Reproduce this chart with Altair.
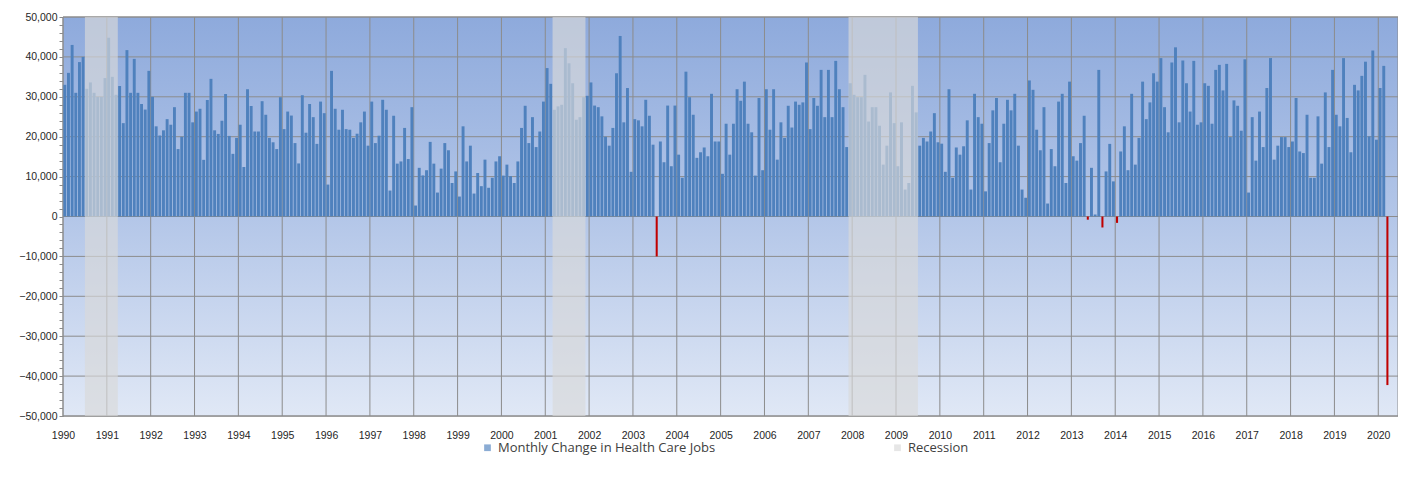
import altair as alt
import pandas as pd

# ---------------- data (monthly change in health care jobs) ----------------
years = list(range(1990, 2021))

jobs_1990 = [33000, 36000, 43000, 31000, 38700, 40000, 32000, 33600, 31000, 30000, 30000, 34700]
jobs_1991 = [44800, 35000, 30500, 32700, 23400, 41700, 31000, 39500, 31000, 28200, 26800, 36500]
jobs_1992 = [30000, 22600, 20300, 21600, 24400, 23000, 27400, 16900, 20000, 31000, 31000, 23600]
jobs_1993 = [26300, 27000, 14200, 29200, 34500, 21600, 20700, 24000, 30700, 20200, 15700, 19700]
jobs_1994 = [23000, 12400, 31900, 27700, 21300, 21300, 28900, 25500, 19700, 18600, 16900, 29900]
jobs_1995 = [21900, 26300, 25300, 18400, 13300, 30400, 21000, 28200, 24900, 18200, 28800, 25900]
jobs_1996 = [8000, 36500, 27000, 21750, 26750, 21900, 21750, 19700, 20750, 23600, 26300, 17750]
jobs_1997 = [28800, 18400, 20250, 29250, 26750, 6500, 25250, 13250, 13800, 22200, 14400, 27400]
jobs_1998 = [2750, 12200, 10300, 11600, 18700, 13250, 6000, 12000, 18400, 16600, 8400, 11300]
jobs_1999 = [5000, 22600, 13800, 17750, 5750, 10900, 7600, 14250, 7200, 9700, 13800, 15100]
jobs_2000 = [10250, 13000, 10100, 8400, 13800, 22200, 27750, 18400, 24900, 17400, 21300, 28800]
jobs_2001 = [37200, 33250, 26750, 27600, 28000, 42200, 38400, 33400, 24250, 24900, 29900, 30250]
jobs_2002 = [33600, 27800, 27400, 25100, 20000, 17750, 22200, 35900, 45250, 23600, 32200, 11200]
jobs_2003 = [24400, 24100, 22600, 29250, 25250, 18000, -10000, 18800, 13600, 27800, 12600, 27800]
jobs_2004 = [15500, 9700, 36300, 29900, 25500, 14700, 16100, 17300, 15100, 30750, 18800, 18800]
jobs_2005 = [10700, 23250, 15500, 23250, 31900, 29000, 33800, 23250, 21100, 10250, 29700, 11600]
jobs_2006 = [31900, 21750, 31900, 14250, 23600, 19700, 27750, 22300, 28800, 28000, 28600, 38600]
jobs_2007 = [21900, 29700, 27750, 36750, 24900, 36750, 24900, 39000, 31900, 27400, 17400, 33400]
jobs_2008 = [30500, 29900, 29900, 35500, 23800, 27400, 27400, 22750, 13000, 17750, 31100, 23400]
jobs_2009 = [12600, 23600, 6750, 8400, 32750, 26100, 17750, 19700, 18800, 21300, 25900, 18600]
jobs_2010 = [18250, 11200, 31900, 9700, 17300, 15500, 17600, 24100, 6750, 30750, 24900, 23250]
jobs_2011 = [6300, 18400, 26600, 29700, 13600, 23250, 29250, 26600, 30750, 17750, 6750, 4700]
jobs_2012 = [34100, 31750, 21750, 16600, 27400, 3250, 16900, 12600, 28800, 30750, 8400, 33800]
jobs_2013 = [15100, 14000, 18400, 25250, -800, 12200, 500, 36750, -2750, 11300, 18200, 8800]
jobs_2014 = [-1600, 16300, 22600, 11600, 30750, 13000, 19700, 33800, 24400, 28600, 35900, 33800]
jobs_2015 = [39700, 27400, 21100, 38600, 42400, 23600, 39100, 33400, 26300, 39000, 23000, 23600]
jobs_2016 = [33400, 32750, 23250, 36750, 38000, 31600, 38250, 19900, 29100, 27750, 21500, 39400]
jobs_2017 = [6000, 24900, 14000, 26300, 17400, 32200, 39700, 14250, 17750, 19900, 19900, 17400]
jobs_2018 = [18800, 29700, 16300, 15900, 25500, 9700, 9700, 25100, 13250, 31100, 17400, 36750]
jobs_2019 = [25500, 22600, 39700, 24700, 16100, 33000, 31600, 35250, 38800, 20100, 41600, 19250]
jobs_2020 = [32200, 37750, -42250]

yearly = [jobs_1990, jobs_1991, jobs_1992, jobs_1993, jobs_1994, jobs_1995, jobs_1996,
          jobs_1997, jobs_1998, jobs_1999, jobs_2000, jobs_2001, jobs_2002, jobs_2003,
          jobs_2004, jobs_2005, jobs_2006, jobs_2007, jobs_2008, jobs_2009, jobs_2010,
          jobs_2011, jobs_2012, jobs_2013, jobs_2014, jobs_2015, jobs_2016, jobs_2017,
          jobs_2018, jobs_2019, jobs_2020]

# recessions (start month, end month inclusive), as year / month
recession_start_year = [1990, 2001, 2007]
recession_start_month = [7, 3, 12]
recession_end_year = [1991, 2001, 2009]
recession_end_month = [3, 11, 6]

series_names = ["Monthly Change in Health Care Jobs", "Recession"]
y_grid_values = list(range(-50000, 50001, 10000))
y_tick_values = list(range(-50000, 50001, 2000))
x_tick_years = years

# ---------------- build tables ----------------
rows = []
for yr, vals in zip(years, yearly):
    for i, v in enumerate(vals):
        t = yr + i / 12.0
        rows.append({
            "t0": t + 0.10 / 12, "t1": t + 0.90 / 12,
            "t0n": t + 0.22 / 12, "t1n": t + 0.78 / 12,
            "value": v, "series": series_names[0],
        })
df = pd.DataFrame(rows)

rec = pd.DataFrame({
    "s": [y + (m - 1) / 12.0 for y, m in zip(recession_start_year, recession_start_month)],
    "e": [y + m / 12.0 for y, m in zip(recession_end_year, recession_end_month)],
    "series": series_names[1],
})

W, H = 1335, 399
FONT_AX = "Liberation Sans"
FONT_LG = "Open Sans"
GRID = "#8c8c8c"

xscale = alt.Scale(domain=[1990, 2020.45], nice=False, zero=False)
yscale = alt.Scale(domain=[-50000, 50000], nice=False, zero=False)

x_axis = alt.Axis(values=x_tick_years, format="d", grid=False, ticks=False, domain=False,
                  labelPadding=14, labelFontSize=10.5, labelFont=FONT_AX, labelColor="#262626",
                  labelOverlap=False, labelFlush=False, title=None)
y_axis = alt.Axis(values=y_tick_values,
                  labelExpr="datum.value % 10000 == 0 ? format(datum.value, ',') : ''",
                  grid=False, domain=True, domainColor=GRID, ticks=True, tickSize=4,
                  tickColor=GRID, labelPadding=2, labelFontSize=10.5, labelFont=FONT_AX,
                  labelColor="#262626", labelOverlap=False, labelFlush=False, title=None)

color_scale = alt.Scale(domain=series_names, range=["#4f81bd", "#d9d9d9"])
legend = alt.Legend(orient="none", legendX=418, legendY=424, direction="horizontal",
                    title=None, symbolType="square", symbolSize=45, symbolStrokeWidth=0,
                    labelFont=FONT_LG, labelFontSize=13, labelColor="#404040",
                    labelLimit=0, columnPadding=175, labelOffset=4, padding=0)

gradient = alt.LinearGradient(
    gradient="linear",
    stops=[alt.GradientStop(color="#8eaadc", offset=0),
           alt.GradientStop(color="#b3c6e8", offset=0.5),
           alt.GradientStop(color="#e0e8f6", offset=1)],
    x1=0, x2=0, y1=0, y2=1,
)

bg = alt.Chart(alt.Data(values=[{"k": 1}])).mark_rect(
    fill=gradient, stroke=GRID, strokeWidth=1
).encode(x=alt.value(0), x2=alt.value(W), y=alt.value(0), y2=alt.value(H))

hgrid = alt.Chart(pd.DataFrame({"v": y_grid_values})).mark_rule(
    color=GRID, strokeWidth=1
).encode(y=alt.Y("v:Q", scale=yscale, axis=y_axis))

vgrid = alt.Chart(pd.DataFrame({"yr": x_tick_years})).mark_rule(
    color=GRID, strokeWidth=1
).encode(x=alt.X("yr:Q", scale=xscale, axis=x_axis))

bars = alt.Chart(df).transform_filter("datum.value >= 0").mark_rect().encode(
    x=alt.X("t0:Q", scale=xscale, axis=x_axis),
    x2="t1:Q",
    y=alt.Y("value:Q", scale=yscale, axis=y_axis),
    y2=alt.datum(0),
    color=alt.Color("series:N", scale=color_scale, legend=legend),
)

neg = alt.Chart(df).transform_filter("datum.value < 0").mark_rect(color="#c00000").encode(
    x=alt.X("t0n:Q", scale=xscale, axis=x_axis),
    x2="t1n:Q",
    y=alt.Y("value:Q", scale=yscale, axis=y_axis),
    y2=alt.datum(0),
)

recess = alt.Chart(rec).mark_rect(opacity=0.66).encode(
    x=alt.X("s:Q", scale=xscale, axis=x_axis),
    x2="e:Q",
    y=alt.value(0),
    y2=alt.value(H),
    color=alt.Color("series:N", scale=color_scale, legend=legend),
)

chart = alt.layer(bg, hgrid, vgrid, bars, neg, recess).properties(
    width=W, height=H,
    autosize="none",
    padding={"left": 55, "top": 9, "right": 0, "bottom": 57},
).configure_view(stroke=None).configure(background="white")

chart.save("out.html", embed_options={"renderer": "svg", "actions": False})
